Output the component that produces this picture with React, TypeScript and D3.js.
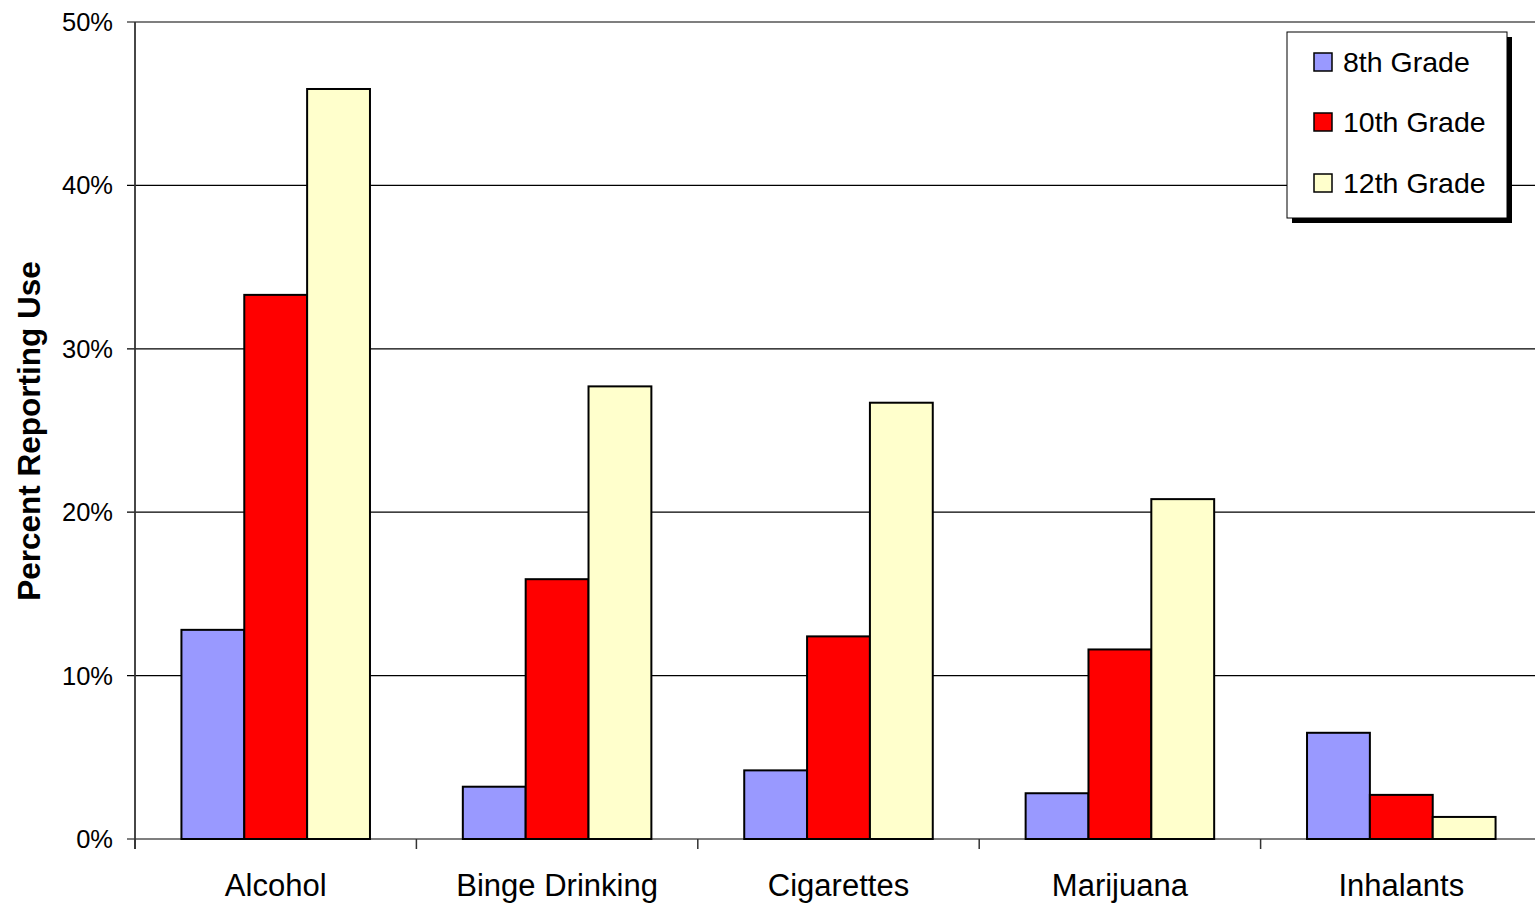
import React from "react";
import * as d3 from "d3";

const categories = ["Alcohol", "Binge Drinking", "Cigarettes", "Marijuana", "Inhalants"];
const seriesNames = ["8th Grade", "10th Grade", "12th Grade"];
const grade8 = [12.8, 3.2, 4.2, 2.8, 6.5];
const grade10 = [33.3, 15.9, 12.4, 11.6, 2.7];
const grade12 = [45.9, 27.7, 26.7, 20.8, 1.35];
const seriesColors = ["#9999FF", "#FF0000", "#FFFFCC"];
const yTicks = [0, 10, 20, 30, 40, 50];

const W = 1535;
const H = 905;
const FONT = "'Liberation Sans', Arial, Helvetica, sans-serif";

export default function App() {
  const plotLeft = 135;
  const plotRight = 1542;
  const plotTop = 22;
  const plotBottom = 839;

  const x0 = d3.scaleBand<string>().domain(categories).range([plotLeft, plotRight]).paddingInner(0).paddingOuter(0);
  const gap = x0.bandwidth() * 0.165;
  const x1 = d3.scaleBand<string>().domain(seriesNames).range([gap, x0.bandwidth() - gap]).padding(0);
  const y = d3.scaleLinear().domain([0, 50]).range([plotBottom, plotTop]);

  const values = [grade8, grade10, grade12];

  // legend geometry
  const lx = 1287, ly = 32, lw = 220, lh = 186;
  const rowY = [62, 122, 183];

  return (
    <svg
      width={W}
      height={H}
      style={{ position: "absolute", left: 0, top: 0, background: "#fff" }}
      fontFamily={FONT}
    >
      {/* horizontal gridlines */}
      {yTicks.map((t) => (
        <line key={"g" + t} x1={plotLeft - 8} x2={W} y1={y(t)} y2={y(t)} stroke="#000" strokeWidth={1.2} />
      ))}
      {/* y tick labels */}
      {yTicks.map((t) => (
        <text key={"yt" + t} x={113} y={y(t)} dy="0.35em" textAnchor="end" fontSize={25.5} fill="#000">
          {d3.format("d")(t) + "%"}
        </text>
      ))}
      {/* category tick marks */}
      {categories.map((c) => (
        <line key={"ct" + c} x1={x0(c)!} x2={x0(c)!} y1={plotBottom} y2={plotBottom + 10} stroke="#333" strokeWidth={1.5} />
      ))}
      {/* bars */}
      {categories.map((c, ci) => (
        <g key={"bg" + c} transform={`translate(${x0(c)},0)`}>
          {seriesNames.map((s, si) => {
            const v = values[si][ci];
            return (
              <rect
                key={s}
                x={x1(s)!}
                y={y(v)}
                width={x1.bandwidth()}
                height={y(0) - y(v)}
                fill={seriesColors[si]}
                stroke="#000"
                strokeWidth={2}
              />
            );
          })}
        </g>
      ))}
      {/* y axis line */}
      <line x1={plotLeft} x2={plotLeft} y1={plotTop} y2={plotBottom + 10} stroke="#333" strokeWidth={1.8} />
      {/* category labels */}
      {categories.map((c) => (
        <text key={"cl" + c} x={x0(c)! + x0.bandwidth() / 2} y={896} textAnchor="middle" fontSize={31} fill="#000">
          {c}
        </text>
      ))}
      {/* y axis title */}
      <text
        transform={`translate(40,${431}) rotate(-90)`}
        textAnchor="middle"
        fontSize={31.5}
        fontWeight="bold"
        fill="#000"
      >
        Percent Reporting Use
      </text>
      {/* legend */}
      <rect x={lx + 5} y={ly + 5} width={lw} height={lh} fill="#000" />
      <rect x={lx} y={ly} width={lw} height={lh} fill="#fff" stroke="#000" strokeWidth={1} />
      {seriesNames.map((s, si) => (
        <g key={"lg" + s}>
          <rect x={1314} y={rowY[si] - 9} width={18} height={18} fill={seriesColors[si]} stroke="#000" strokeWidth={1.5} />
          <text x={1343} y={rowY[si]} dy="0.36em" fontSize={28.5} fill="#000">
            {s}
          </text>
        </g>
      ))}
    </svg>
  );
}
